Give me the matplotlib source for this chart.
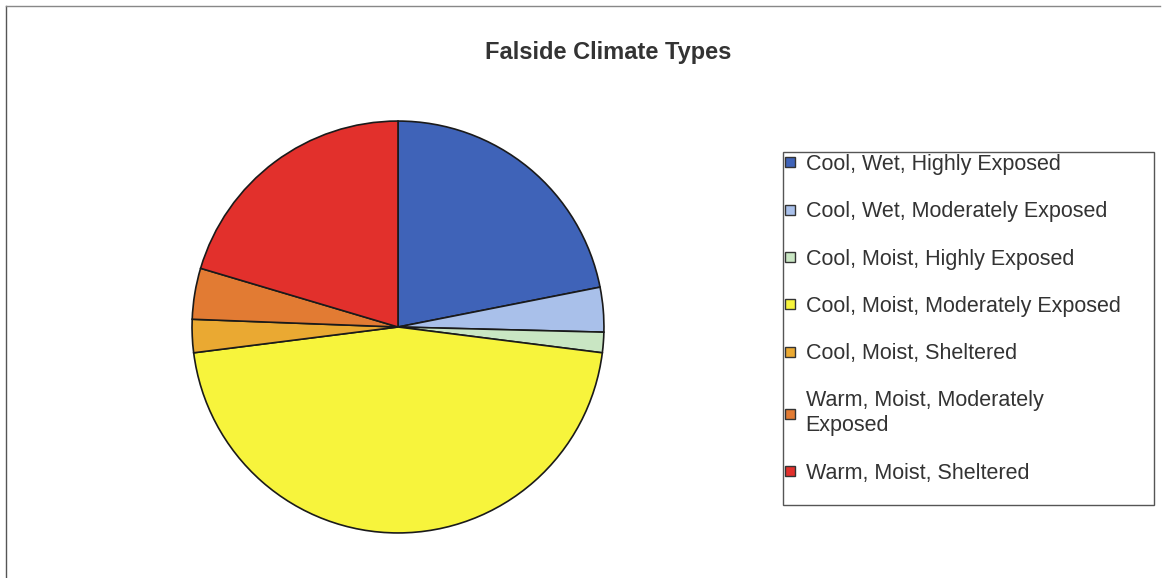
import matplotlib
matplotlib.use("Agg")
import matplotlib.pyplot as plt
from matplotlib.lines import Line2D
from matplotlib.patches import Rectangle

categories = [
    "Cool, Wet, Highly Exposed",
    "Cool, Wet, Moderately Exposed",
    "Cool, Moist, Highly Exposed",
    "Cool, Moist, Moderately Exposed",
    "Cool, Moist, Sheltered",
    "Warm, Moist, Moderately Exposed",
    "Warm, Moist, Sheltered",
]
values = [21.9, 3.5, 1.6, 46.0, 2.6, 4.0, 20.4]
colors = ["#3f63b8", "#a9c0ea", "#c9e6c3", "#f7f43c", "#eaa932", "#e27b33", "#e2302c"]
legend_labels = [
    "Cool, Wet, Highly Exposed",
    "Cool, Wet, Moderately Exposed",
    "Cool, Moist, Highly Exposed",
    "Cool, Moist, Moderately Exposed",
    "Cool, Moist, Sheltered",
    "Warm, Moist, Moderately\nExposed",
    "Warm, Moist, Sheltered",
]

plt.rcParams["font.family"] = ["Liberation Sans", "DejaVu Sans"]

W, H = 1167, 578
fig = plt.figure(figsize=(W / 100, H / 100), dpi=100)
fig.patch.set_facecolor("white")

# pie axes: circle centre (398,327) radius 208 px
cx, cy, r = 398, 327, 208
ax = fig.add_axes([(cx - r) / W, (H - cy - r) / H, 2 * r / W, 2 * r / H])
ax.pie(values, colors=colors, startangle=90, counterclock=False,
       wedgeprops=dict(edgecolor="#1a1a1a", linewidth=1.2), radius=1)
ax.set_xlim(-1.01, 1.01)
ax.set_ylim(-1.01, 1.01)
ax.set_aspect("equal")
ax.axis("off")

fig.text(608 / W, 1 - 52 / H, "Falside Climate Types", ha="center", va="center",
         fontsize=17, fontweight="bold", color="#333333")

handles = [Line2D([], [], marker="s", linestyle="none", markersize=7.5,
                  markerfacecolor=c, markeredgecolor="#333333", markeredgewidth=1.0)
           for c in colors]
leg = fig.legend(handles, legend_labels, loc="upper left",
                 bbox_to_anchor=(784 / W, 1 - 154 / H), fontsize=15.5,
                 frameon=False, handlelength=0.6, handletextpad=0.4,
                 borderpad=0, labelspacing=1.22, borderaxespad=0)
for t in leg.get_texts():
    t.set_color("#333333")
    t.set_linespacing(1.25)

# legend frame
fig.add_artist(Rectangle((783 / W, 1 - 505 / H), (1154 - 783) / W, (505 - 152) / H,
                         transform=fig.transFigure, fill=False,
                         edgecolor="#555555", linewidth=1.0))

# outer chart frame (left and top edges)
fig.add_artist(Line2D([6 / W, 6 / W], [0, 1 - 6 / H], transform=fig.transFigure,
                      color="#555555", linewidth=1.0))
fig.add_artist(Line2D([6 / W, 1160 / W], [1 - 6 / H, 1 - 6 / H], transform=fig.transFigure,
                      color="#888888", linewidth=1.0))

fig.savefig("out.png", dpi=100)
